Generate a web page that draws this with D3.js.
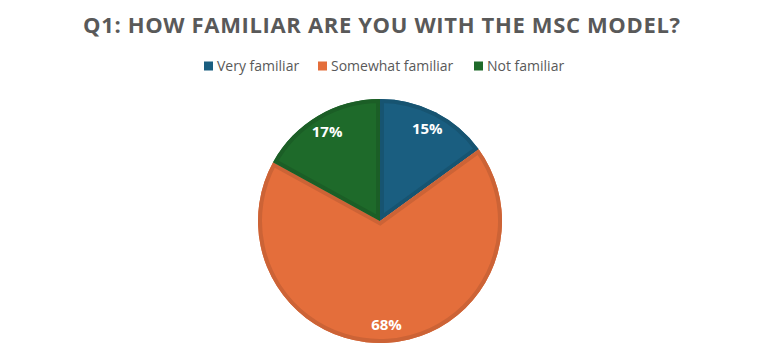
<!DOCTYPE html>
<html><head><meta charset="utf-8">
<script src="https://cdn.jsdelivr.net/npm/d3@7"></script>
<style>body{margin:0;background:#fff}svg{display:block}</style>
</head><body>
<svg id="c" width="761" height="359"></svg>
<script>
const categories = ["Very familiar", "Somewhat familiar", "Not familiar"];
const values = [15, 68, 17];
const labels = ["15%", "68%", "17%"];
const fills = ["#1a5e80", "#e46e3b", "#1e6a2a"];
const strokes = ["#175471", "#cc6336", "#1b5e26"];
const title = "Q1: HOW FAMILIAR ARE YOU WITH THE MSC MODEL?";

const svg = d3.select("#c");
const W = 761;
const cx = 380, cy = 221, R = 122;

// title
const t = svg.append("text").attr("x", W/2 + 1).attr("y", 32.5)
  .attr("text-anchor", "middle")
  .style("font-family", "'Open Sans', sans-serif").style("font-weight", 700)
  .style("font-size", "22px").attr("fill", "#595959").text(title);
const tw = t.node().getComputedTextLength();
const ls = (597 - tw) / (title.length - 1);
t.style("letter-spacing", ls + "px").attr("x", W/2 + 1 + ls/2);

// legend
const legX = [204, 318, 474];
const lg = svg.append("g");
categories.forEach((c, i) => {
  lg.append("rect").attr("x", legX[i]).attr("y", 61.5).attr("width", 9).attr("height", 9).attr("fill", fills[i]);
  lg.append("text").attr("x", legX[i] + 13).attr("y", 71)
    .style("font-family", "'Open Sans', sans-serif").style("font-size", "14px")
    .attr("fill", "#595959").text(c);
});

// pie
const pie = d3.pie().sort(null).value(d => d)(values);
const arc = d3.arc().innerRadius(0).outerRadius(R);
const g = svg.append("g").attr("transform", `translate(${cx},${cy})`);
const defs = svg.append("defs");
pie.forEach((d, i) => {
  defs.append("clipPath").attr("id", "clip" + i).append("path").attr("d", arc(d));
  g.append("path").attr("d", arc(d)).attr("fill", fills[i]);
  g.append("path").attr("d", arc(d)).attr("fill", "none").attr("stroke", strokes[i])
    .attr("stroke-width", 8).attr("stroke-linejoin", "miter").attr("clip-path", `url(#clip${i})`);
});
const larc = d3.arc().innerRadius(104).outerRadius(104);
pie.forEach((d, i) => {
  const [x, y] = larc.centroid(d);
  g.append("text").attr("x", x).attr("y", y + 5.5).attr("text-anchor", "middle")
    .style("font-family", "'Open Sans', sans-serif").style("font-weight", 700)
    .style("font-size", "15px").attr("fill", "#fff").text(labels[i]);
});
</script>
</body></html>
